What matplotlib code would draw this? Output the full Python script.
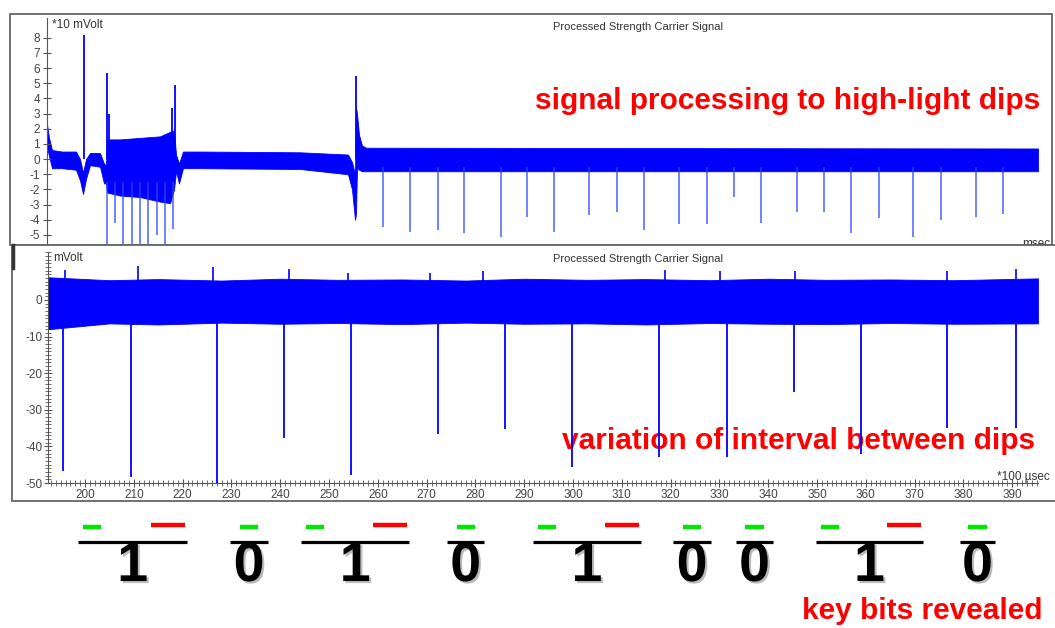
import numpy as np
import matplotlib.pyplot as plt
from matplotlib.patches import Rectangle
from matplotlib.ticker import MultipleLocator
import matplotlib.patheffects as pe

plt.rcParams['font.family'] = ['Liberation Sans', 'DejaVu Sans']
plt.rcParams['axes.unicode_minus'] = False

W, H = 1055, 628

# upper trace: time in msec, amplitude in *10 mVolt (band envelope of the noisy carrier)
top_t = [0.0, 0.4, 1.0, 3.0, 5.8, 6.6, 7.2, 7.8, 8.6, 10.6, 11.4, 11.8, 12.0, 14.6, 18.6,
         22.6, 24.6, 25.4, 25.8, 26.4, 27.2, 30.6, 50.6, 60.2, 61.0, 61.6, 61.8, 62.0,
         62.4, 63.0, 63.8, 198.2]
top_upper = [2.3, 1.4, 0.6, 0.5, 0.5, 0.0, -0.9, 0.0, 0.4, 0.4, -0.3, -0.4, 1.3, 1.3, 1.4,
             1.5, 1.8, 1.9, 0.3, -0.3, 0.5, 0.5, 0.45, 0.3, -0.2, -1.0, 3.4, 3.0,
             1.6, 0.9, 0.75, 0.7]
top_lower = [0.8, 0.2, -0.6, -0.6, -0.7, -1.4, -2.3, -1.3, -0.4, -0.5, -1.6, -1.6, -2.2, -2.4, -2.5,
             -2.8, -2.9, -2.0, -0.8, -1.6, -0.6, -0.6, -0.65, -1.0, -2.0, -4.0, -3.6, -0.6,
             -0.7, -0.8, -0.8, -0.8]

# upward spikes and the downward spikes in the burst
top_peak_t = [7.4, 12.0, 12.4, 25.0, 25.6, 61.8]
top_peak_v = [8.2, 5.7, 3.0, 3.4, 4.9, 5.5]
top_burst_t = [12.0, 13.6, 15.2, 17.0, 18.6, 20.2, 22.0, 23.6, 25.2]
top_burst_v = [-5.7, -4.2, -5.7, -5.7, -5.7, -5.7, -5.0, -5.7, -4.6]

# dips after processing
top_dip_t = [67.2, 72.6, 78.2, 83.4, 90.8, 96.0, 101.4, 108.4, 114.0, 119.4, 126.4, 132.0,
             137.4, 142.8, 150.0, 155.4, 160.8, 166.4, 173.2, 178.8, 185.8, 191.2]
top_dip_v = [-4.5, -4.8, -4.7, -4.9, -5.1, -3.8, -4.8, -3.7, -3.5, -4.7, -4.3, -4.3,
             -2.5, -4.2, -3.5, -3.5, -4.9, -3.9, -5.1, -4.0, -3.8, -3.6]

# lower trace: time in *100 usec, amplitude in mVolt
bot_t = [192.4, 205, 215, 228, 240, 252, 265, 278, 290, 303, 315, 328, 340, 352, 365, 378, 395.3]
bot_upper = [6.2, 5.4, 5.7, 5.3, 5.8, 5.5, 5.6, 5.3, 5.8, 5.5, 5.7, 5.4, 5.8, 5.5, 5.6, 5.4, 5.9]
bot_lower = [-8.0, -6.4, -6.7, -6.2, -6.5, -6.3, -6.6, -6.2, -6.5, -6.4, -6.7, -6.3, -6.5, -6.6, -6.3, -6.5, -6.4]

bot_up_t = [195.9, 210.9, 226.2, 241.8, 253.9, 270.7, 281.6, 318.9, 330.1, 345.5, 376.6, 390.8]
bot_up_v = [8.2, 9.3, 9.0, 8.5, 7.4, 7.4, 7.9, 8.2, 7.9, 7.9, 7.9, 8.5]

bot_dip_t = [195.5, 209.4, 227.1, 240.8, 254.5, 272.3, 286.1, 299.8, 317.6, 331.6,
             345.3, 359.0, 376.6, 390.8]
bot_dip_v = [-46.7, -48.3, -50.0, -37.8, -47.8, -36.6, -35.3, -45.7, -43.0, -43.0,
             -25.1, -42.0, -35.0, -35.0]

# recovered key bits and the stretch of the trace each one spans
bits = [1, 0, 1, 0, 1, 0, 0, 1, 0]
bit_start = [198.6, 229.7, 244.3, 274.2, 291.8, 320.5, 333.4, 349.8, 379.3]
bit_end = [220.9, 237.5, 266.4, 281.8, 313.9, 328.3, 341.0, 371.7, 386.5]


def fx(px):
    return px / W


def fy(py):
    return 1 - py / H


BLUE = '#0000ff'
SPIKE = '#2b45ff'
AX_COL = '#555555'
TXT = '#333333'

fig = plt.figure(figsize=(W / 100, H / 100), dpi=100)
fig.patch.set_facecolor('white')

# ---- upper panel ----
ax1 = fig.add_axes([fx(47), fy(245), (1038 - 47) / W, (245 - 18) / H], zorder=0)
ax1.patch.set_alpha(0)
ax1.fill_between(top_t, top_lower, top_upper, color=BLUE, lw=0.6, ec=BLUE)
ax1.vlines(top_peak_t, 0, top_peak_v, color=BLUE, lw=1.3)
ax1.vlines(top_burst_t, -1.5, top_burst_v, color=SPIKE, lw=1.1, alpha=0.85)
ax1.vlines(top_dip_t, -0.5, top_dip_v, color=SPIKE, lw=1.1, alpha=0.85)
ax1.set_xlim(0, 198.2)
ax1.set_ylim(-5.66, 9.3)
for s in ['top', 'right', 'bottom']:
    ax1.spines[s].set_visible(False)
ax1.spines['left'].set_color(AX_COL)
ax1.spines['left'].set_linewidth(0.8)
ax1.set_xticks([])
ax1.set_yticks(range(-5, 9))
ax1.tick_params(axis='y', direction='inout', length=6, width=0.8, color=AX_COL,
                labelcolor='#444444', labelsize=8.5, pad=2)
ax1.text(fx(1022), fy(244), 'msec', transform=fig.transFigure, fontsize=8.5,
         color=TXT, va='center', ha='left', clip_on=False)

fig.patches.append(Rectangle((fx(10), fy(245)), (1052 - 10) / W, (245 - 14) / H,
                             transform=fig.transFigure, fill=False, ec='#666666',
                             lw=1.3, zorder=0.5))

fig.text(fx(52), fy(25), '*10 mVolt', fontsize=8.5, color=TXT, va='center', ha='left')
fig.text(fx(638), fy(27), 'Processed Strength Carrier Signal', fontsize=8,
         color=TXT, va='center', ha='center')
fig.text(fx(1040), fy(101), 'signal processing to high-light dips', fontsize=21.5,
         color='#ff0000', fontweight='bold', va='center', ha='right')

# ---- lower panel ----
fig.patches.append(Rectangle((fx(12), fy(501)), (1070 - 12) / W, (501 - 245) / H,
                             transform=fig.transFigure, fc='white', ec='#666666',
                             lw=1.3, zorder=1))
fig.lines.append(plt.Line2D([fx(12.5), fx(12.5)], [fy(245), fy(268)],
                            transform=fig.transFigure, color='#333333', lw=2.5, zorder=1.5))

ax2 = fig.add_axes([fx(48), fy(483), (1038 - 48) / W, (483 - 252) / H], zorder=2)
ax2.patch.set_alpha(0)
ax2.fill_between(bot_t, bot_lower, bot_upper, color=BLUE, lw=0.6, ec=BLUE, zorder=2)
ax2.vlines(bot_up_t, 0, bot_up_v, color=BLUE, lw=1.2, zorder=2)
ax2.vlines(bot_dip_t, -5, bot_dip_v, color=BLUE, lw=1.3, zorder=2)
ax2.set_xlim(192.4, 395.3)
ax2.set_ylim(-50, 13.1)
for s in ['top', 'right']:
    ax2.spines[s].set_visible(False)
for s in ['left', 'bottom']:
    ax2.spines[s].set_color(AX_COL)
    ax2.spines[s].set_linewidth(0.8)
ax2.set_xticks(np.arange(200, 391, 10))
ax2.set_yticks(np.arange(-50, 1, 10))
ax2.xaxis.set_minor_locator(MultipleLocator(1))
ax2.yaxis.set_minor_locator(MultipleLocator(1))
ax2.tick_params(which='major', direction='inout', length=6, width=0.8, color=AX_COL,
                labelcolor='#444444', labelsize=8.5, pad=1)
ax2.tick_params(which='minor', direction='inout', length=4, width=0.6, color=AX_COL)

ax2.text(fx(1035), fy(441), 'variation of interval between dips', transform=fig.transFigure,
         fontsize=21.5, color='#ff0000', fontweight='bold', va='center', ha='right', zorder=1)

fig.text(fx(53), fy(258), 'mVolt', fontsize=8.5, color=TXT, va='center', ha='left', zorder=4)
fig.text(fx(638), fy(259), 'Processed Strength Carrier Signal', fontsize=8,
         color=TXT, va='center', ha='center', zorder=4)
fig.text(fx(997), fy(477), '*100 µsec', fontsize=8.5, color=TXT, va='center', ha='left', zorder=4)

# ---- key bits read from the dip spacing ----
ax3 = fig.add_axes([fx(48), 0, (1038 - 48) / W, (628 - 505) / H], zorder=3)
ax3.set_xlim(192.4, 395.3)
ax3.set_ylim(628, 505)
ax3.axis('off')

for b, x0, x1 in zip(bits, bit_start, bit_end):
    ax3.plot([x0, x1], [542, 542], color='black', lw=2.3, solid_capstyle='butt')
    if b == 1:
        ax3.plot([x0 + 1.0, x0 + 4.7], [526.5, 526.5], color='#00e600', lw=3.2,
                 solid_capstyle='butt')
        ax3.plot([x1 - 7.4, x1 - 0.4], [525, 525], color='#ff0000', lw=3.2,
                 solid_capstyle='butt')
    else:
        mid = (x0 + x1) / 2
        ax3.plot([mid - 1.85, mid + 1.85], [526.5, 526.5], color='#00e600', lw=3.2,
                 solid_capstyle='butt')
    ax3.text((x0 + x1) / 2, 567, str(b), fontsize=40, fontweight='bold', color='black',
             ha='center', va='center',
             path_effects=[pe.withSimplePatchShadow(offset=(1.5, -1.5), shadow_rgbFace='#777777',
                                                    alpha=0.5)])

fig.text(fx(1042), fy(611), 'key bits revealed', fontsize=21.5, color='#ff0000',
         fontweight='bold', va='center', ha='right')

fig.savefig('out.png', dpi=100)
